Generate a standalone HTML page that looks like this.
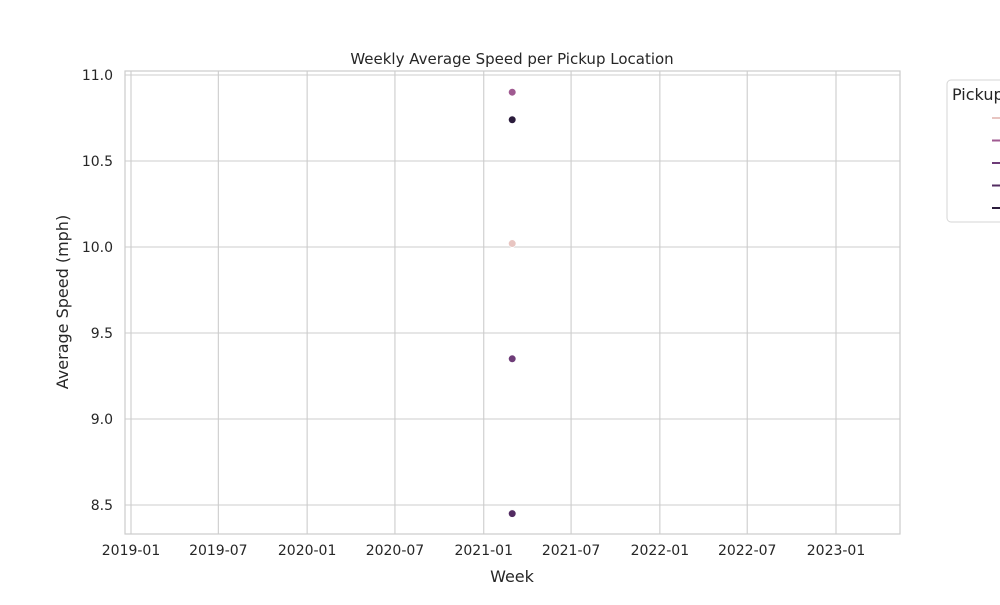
<!DOCTYPE html>
<html><head><meta charset="utf-8"><style>
body{margin:0;background:#fff;font-family:"Liberation Sans","DejaVu Sans",sans-serif;}
svg text{font-family:"DejaVu Sans","Liberation Sans",sans-serif;fill:#262626;}
</style></head><body>
<svg width="1000" height="600" viewBox="0 0 1000 600" id="chart">
<rect x="0" y="0" width="1000" height="600" fill="#fff"/>
<g id="grid"></g>
<rect x="125" y="71" width="775" height="463" fill="none" stroke="#cccccc" stroke-width="1.2"/>
<g id="marks"></g>
<text x="512" y="64" text-anchor="middle" font-size="15">Weekly Average Speed per Pickup Location</text>
<text x="512" y="582" text-anchor="middle" font-size="16">Week</text>
<text x="68" y="302" text-anchor="middle" font-size="16" transform="rotate(-90 68 302)">Average Speed (mph)</text>
<g>
<rect x="947" y="80" width="70" height="142" rx="4" fill="#fff" stroke="#d6d6d6"/>
<text x="952" y="100" font-size="16">Pickup</text>
<g id="legend"></g>
</g>
</svg>
<script>
const categories=["A","B","C","D","E"];
const colors=["#e8c5c1","#a05a91","#6e3c78","#532c62","#2b1c3c"];
const dates=["2021-03-01","2021-03-01","2021-03-01","2021-03-01","2021-03-01"];
const speeds=[10.02,10.90,9.35,8.45,10.74];
const yTicks=[8.5,9.0,9.5,10.0,10.5,11.0];
const xTicks=["2019-01","2019-07","2020-01","2020-07","2021-01","2021-07","2022-01","2022-07","2023-01"];
const NS="http://www.w3.org/2000/svg";
const t0=Date.parse("2019-01-01"),t1=Date.parse("2023-01-01");
function xs(d){return 131+(Date.parse(d)-t0)/(t1-t0)*705;}
function ys(v){return 75+(11-v)*172;}
function mk(tag,attrs,parent){const e=document.createElementNS(NS,tag);for(const k in attrs)e.setAttribute(k,attrs[k]);parent.appendChild(e);return e;}
const grid=document.getElementById("grid"),marks=document.getElementById("marks"),leg=document.getElementById("legend");
yTicks.forEach(v=>{const y=ys(v);
const l=mk("line",{x1:125,x2:900,y1:y,y2:y,stroke:"#cccccc","stroke-width":1.1},grid);


const t=mk("text",{x:113,y:y+5,"text-anchor":"end","font-size":14},grid);t.textContent=v.toFixed(1);

});
xTicks.forEach(s=>{const x=xs(s+"-01");
const l=mk("line",{x1:x,x2:x,y1:71,y2:534,stroke:"#cccccc","stroke-width":1.1},grid);


const t=mk("text",{x:x,y:555,"text-anchor":"middle","font-size":14},grid);t.textContent=s;

});
speeds.forEach((v,i)=>{
const c=mk("circle",{cx:xs(dates[i]),cy:ys(v),r:3.8,fill:colors[i],stroke:"#fff","stroke-width":0.6},marks);


const y=118+i*22.5;
const l=mk("line",{x1:992,x2:1012,y1:y,y2:y,stroke:colors[i],"stroke-width":2},leg);

});
</script>
</body></html>
